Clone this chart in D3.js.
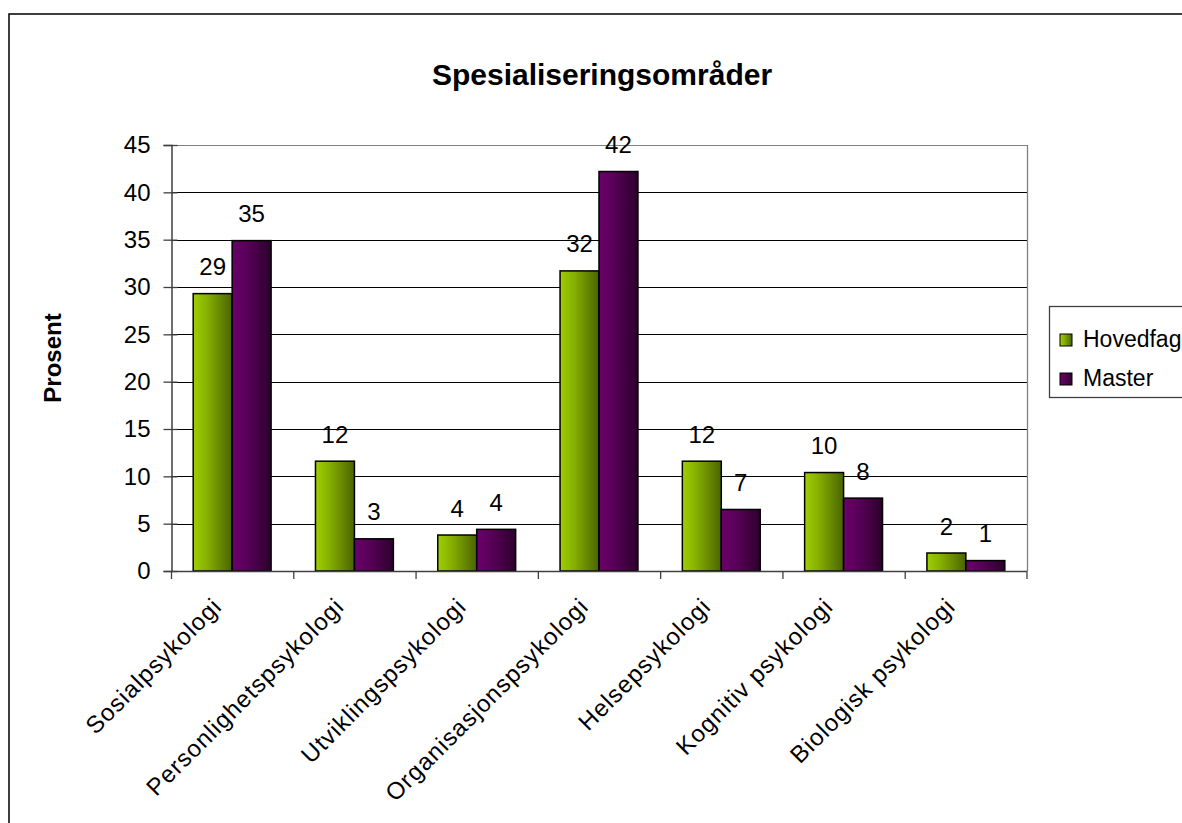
<!DOCTYPE html>
<html>
<head>
<meta charset="utf-8">
<script src="https://cdn.jsdelivr.net/npm/d3@7"></script>
<style>
  html, body { margin: 0; padding: 0; background: #fff; overflow: hidden; }
  text { font-family: Arial, "Liberation Sans", sans-serif; fill: #000; }
</style>
</head>
<body>
<div id="chart"></div>
<script>
// Data
const categories = ["Sosialpsykologi", "Personlighetspsykologi", "Utviklingspsykologi",
  "Organisasjonspsykologi", "Helsepsykologi", "Kognitiv psykologi", "Biologisk psykologi"];
const seriesNames = ["Hovedfag", "Master"];
const hovedfag = [29.3, 11.6, 3.8, 31.7, 11.6, 10.4, 1.9];
const master = [34.9, 3.4, 4.4, 42.2, 6.5, 7.7, 1.1];
const yTicks = [0, 5, 10, 15, 20, 25, 30, 35, 40, 45];

const width = 1182, height = 823;
const plot = { left: 171, top: 145, right: 1027, bottom: 571 };

const svg = d3.select('#chart').append('svg')
  .attr('width', width)
  .attr('height', height);

// gradients for the bars
const defs = svg.append('defs');
const gradients = [
  { id: 'gGreen', from: '#9fcf00', mid: '#86b000', to: '#4a6400' },
  { id: 'gPurple', from: '#6a006a', mid: '#5a005a', to: '#2c002c' }
];
gradients.forEach(g => {
  const lg = defs.append('linearGradient')
    .attr('id', g.id)
    .attr('x1', '0%').attr('x2', '100%')
    .attr('y1', '0%').attr('y2', '0%');
  lg.append('stop').attr('offset', '0%').attr('stop-color', g.from);
  lg.append('stop').attr('offset', '35%').attr('stop-color', g.mid);
  lg.append('stop').attr('offset', '100%').attr('stop-color', g.to);
});
const fills = ['url(#gGreen)', 'url(#gPurple)'];

// outer chart border (runs off the page right and bottom)
svg.append('rect')
  .attr('x', 9).attr('y', 14)
  .attr('width', 1300).attr('height', 900)
  .attr('fill', 'none')
  .attr('stroke', '#000')
  .attr('stroke-width', 1.5);

const x = d3.scaleBand()
  .domain(categories)
  .range([plot.left, plot.right])
  .paddingInner(0)
  .paddingOuter(0);

const xInner = d3.scaleBand()
  .domain(seriesNames)
  .range([0, x.bandwidth()])
  .paddingOuter(0.57)
  .paddingInner(0);

const y = d3.scaleLinear()
  .domain([0, 45])
  .range([plot.bottom, plot.top]);

// gridlines
svg.append('g')
  .selectAll('line')
  .data(yTicks.filter(d => d > 0))
  .join('line')
  .attr('x1', plot.left).attr('x2', plot.right)
  .attr('y1', d => Math.round(y(d)) + 0.5)
  .attr('y2', d => Math.round(y(d)) + 0.5)
  .attr('stroke', d => d === 45 ? '#808080' : '#000')
  .attr('stroke-width', 1);

// right border of plot area
svg.append('line')
  .attr('x1', plot.right + 0.5).attr('x2', plot.right + 0.5)
  .attr('y1', plot.top).attr('y2', plot.bottom)
  .attr('stroke', '#808080')
  .attr('stroke-width', 1.3);

// bars
const groups = svg.append('g')
  .selectAll('g')
  .data(categories.map((c, i) => ({ cat: c, vals: [hovedfag[i], master[i]] })))
  .join('g')
  .attr('transform', d => `translate(${x(d.cat)},0)`);

groups.selectAll('rect')
  .data(d => d.vals.map((v, j) => ({ name: seriesNames[j], v: v, j: j })))
  .join('rect')
  .attr('x', d => xInner(d.name))
  .attr('y', d => y(d.v))
  .attr('width', xInner.bandwidth())
  .attr('height', d => y(0) - y(d.v))
  .attr('fill', d => fills[d.j])
  .attr('stroke', '#000')
  .attr('stroke-width', 1.5);

groups.selectAll('text')
  .data(d => d.vals.map((v, j) => ({ name: seriesNames[j], v: v })))
  .join('text')
  .attr('x', d => xInner(d.name) + xInner.bandwidth() / 2)
  .attr('y', d => y(d.v) - 18.5)
  .attr('text-anchor', 'middle')
  .style('font-size', '24px')
  .text(d => Math.round(d.v));

// y axis (cross ticks)
const yAxis = svg.append('g')
  .attr('transform', `translate(${plot.left + 0.5},0)`)
  .call(d3.axisLeft(y).tickValues(yTicks).tickSize(8).tickPadding(13).tickFormat(d3.format('d')));
yAxis.select('.domain').attr('stroke', '#404040').attr('stroke-width', 1.5);
yAxis.selectAll('.tick line')
  .attr('x2', -8).attr('x1', 6)
  .attr('stroke', '#404040').attr('stroke-width', 1.3);
yAxis.selectAll('.tick text')
  .style('font-size', '24px')
  .style('font-family', 'Arial, "Liberation Sans", sans-serif')
  .attr('fill', '#000');

// x axis: ticks at band boundaries
const xAxisG = svg.append('g');
xAxisG.append('line')
  .attr('x1', plot.left).attr('x2', plot.right)
  .attr('y1', plot.bottom + 0.5).attr('y2', plot.bottom + 0.5)
  .attr('stroke', '#404040').attr('stroke-width', 1.5);
xAxisG.selectAll('line.tk')
  .data(categories.concat(['__end']))
  .join('line')
  .attr('class', 'tk')
  .attr('x1', d => d === '__end' ? plot.right : x(d) + 0.5)
  .attr('x2', d => d === '__end' ? plot.right : x(d) + 0.5)
  .attr('y1', plot.bottom).attr('y2', plot.bottom + 8)
  .attr('stroke', '#404040').attr('stroke-width', 1.3);

xAxisG.selectAll('text')
  .data(categories)
  .join('text')
  .attr('text-anchor', 'end')
  .attr('transform', d => `translate(${x(d) + x.bandwidth() / 2 - 9},${plot.bottom + 37}) rotate(-45)`)
  .style('font-size', '24px')
  .style('letter-spacing', '1px')
  .text(d => d);

// title
svg.append('text')
  .attr('x', 602).attr('y', 85)
  .attr('text-anchor', 'middle')
  .style('font-size', '30px')
  .style('font-weight', 'bold')
  .text('Spesialiseringsområder');

// y axis title
svg.append('text')
  .attr('transform', `translate(61,${(plot.top + plot.bottom) / 2}) rotate(-90)`)
  .attr('text-anchor', 'middle')
  .style('font-size', '24px')
  .style('font-weight', 'bold')
  .text('Prosent');

// legend
const legend = svg.append('g').attr('transform', 'translate(1049,306)');
legend.append('rect')
  .attr('x', 0.5).attr('y', 0.5)
  .attr('width', 200).attr('height', 91)
  .attr('fill', '#fff')
  .attr('stroke', '#404040')
  .attr('stroke-width', 1.3);
const items = legend.selectAll('g.item')
  .data(seriesNames)
  .join('g')
  .attr('class', 'item')
  .attr('transform', (d, i) => `translate(11,${28 + i * 39})`);
items.append('rect')
  .attr('x', 0).attr('y', 0)
  .attr('width', 12).attr('height', 12)
  .attr('fill', (d, i) => fills[i])
  .attr('stroke', '#000');
items.append('text')
  .attr('x', 23).attr('y', 13)
  .style('font-size', '23px')
  .text(d => d);
</script>
</body>
</html>
